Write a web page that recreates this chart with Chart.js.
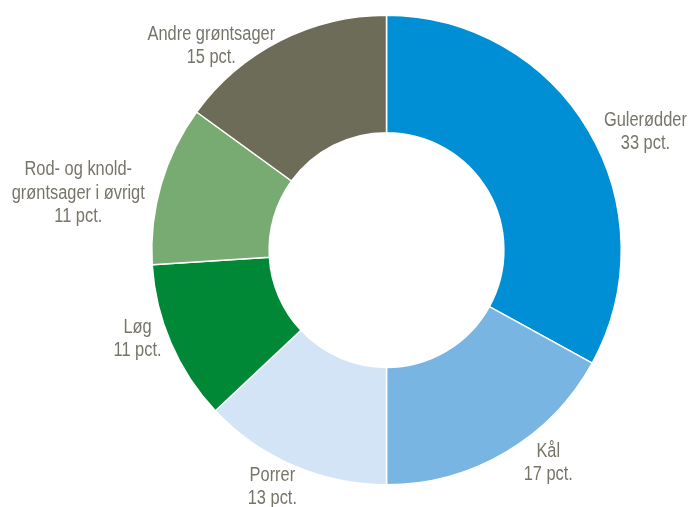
<!DOCTYPE html>
<html>
<head>
<meta charset="utf-8">
<script src="https://cdn.jsdelivr.net/npm/chart.js@4/dist/chart.umd.min.js"></script>
<style>
  html, body { margin: 0; padding: 0; background: #fff; }
  #wrap { width: 689px; height: 507px; }
</style>
</head>
<body>
<div id="wrap"><canvas id="vegChart" width="689" height="507"></canvas></div>
<script>
const categories = ['Gulerødder', 'Kål', 'Porrer', 'Løg', 'Rod- og knold-\ngrøntsager i øvrigt', 'Andre grøntsager'];
const shares = [33, 17, 13, 11, 11, 15];
const sliceColors = ['#008fd5', '#78b5e3', '#d2e4f6', '#008837', '#77ab71', '#6d6c58'];
// small nudges of each label from its anchor point outside the ring
const labelNudge = [[31, 17], [27, -15], [-9, -6], [-6, -16], [-54, 17], [-55, 32]];

// no narrow font installed, so squeeze Liberation Sans horizontally
const labelFont = '20px "Liberation Sans Narrow", "Arial Narrow", "Liberation Sans", sans-serif';
const squeeze = 0.82;
const labelColor = '#77756a';

const outsideLabels = {
    id: 'outsideLabels',
    afterDatasetsDraw(chart) {
        const ctx = chart.ctx;
        const arcs = chart.getDatasetMeta(0).data;
        ctx.save();
        ctx.font = labelFont;
        ctx.fillStyle = labelColor;
        ctx.textAlign = 'center';
        ctx.textBaseline = 'middle';
        arcs.forEach((arc, i) => {
            const mid = (arc.startAngle + arc.endAngle) / 2;
            const r = arc.outerRadius + 30;
            const cx = arc.x + Math.cos(mid) * r + labelNudge[i][0];
            const cy = arc.y + Math.sin(mid) * r + labelNudge[i][1];
            const lines = categories[i].split('\n').concat([shares[i] + ' pct.']);
            const lh = 23.5;
            lines.forEach((line, j) => {
                ctx.save();
                ctx.translate(cx, cy + (j - (lines.length - 1) / 2) * lh);
                ctx.scale(squeeze, 1);
                ctx.fillText(line, 0, 0);
                ctx.restore();
            });
        });
        ctx.restore();
    }
};

const ctx = document.getElementById('vegChart').getContext('2d');

const vegChart = new Chart(ctx, {
    type: 'doughnut',
    data: {
        labels: categories,
        datasets: [{
            data: shares,
            backgroundColor: sliceColors,
            borderColor: '#ffffff',
            borderWidth: 1.5
        }]
    },
    options: {
        responsive: false,
        animation: false,
        cutout: '50%',
        layout: {
            padding: { left: 151, right: 67, top: 14, bottom: 21 }
        },
        plugins: {
            legend: { display: false },
            tooltip: { enabled: false },
            title: { display: false }
        }
    },
    plugins: [outsideLabels]
});
</script>
</body>
</html>
